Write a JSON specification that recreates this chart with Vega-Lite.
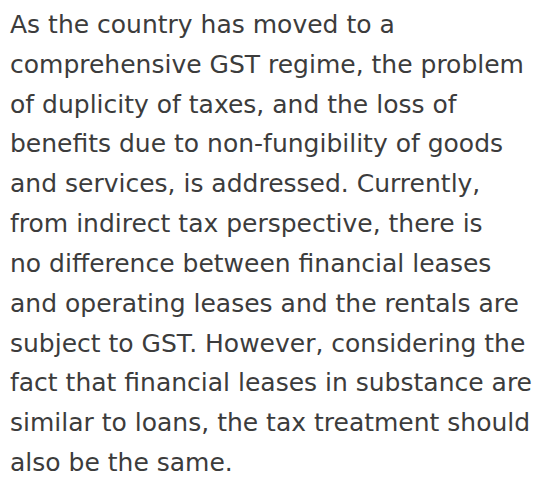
{
  "$schema": "https://vega.github.io/schema/vega-lite/v6.json",
  "width": 544,
  "height": 477,
  "autosize": {"type": "fit", "contains": "padding"},
  "padding": 0,
  "background": "#ffffff",
  "config": {"view": {"stroke": null}},
  "data": {"values": [
    {"line": 1, "text": "As the country has moved to a"},
    {"line": 2, "text": "comprehensive GST regime, the problem"},
    {"line": 3, "text": "of duplicity of taxes, and the loss of"},
    {"line": 4, "text": "benefits due to non-fungibility of goods"},
    {"line": 5, "text": "and services, is addressed. Currently,"},
    {"line": 6, "text": "from indirect tax perspective, there is"},
    {"line": 7, "text": "no difference between financial leases"},
    {"line": 8, "text": "and operating leases and the rentals are"},
    {"line": 9, "text": "subject to GST. However, considering the"},
    {"line": 10, "text": "fact that financial leases in substance are"},
    {"line": 11, "text": "similar to loans, the tax treatment should"},
    {"line": 12, "text": "also be the same."}
  ]},
  "mark": {"type": "text", "align": "left", "baseline": "alphabetic", "font": "DejaVu Sans", "fontSize": 25, "color": "#3c3c3c"},
  "encoding": {
    "x": {"datum": 10, "type": "quantitative", "scale": {"domain": [0, 544]}, "axis": null},
    "y": {"field": "line", "type": "quantitative", "scale": {"domain": [0.175, 12.1], "reverse": true, "zero": false, "nice": false}, "axis": null},
    "text": {"field": "text"}
  }
}
